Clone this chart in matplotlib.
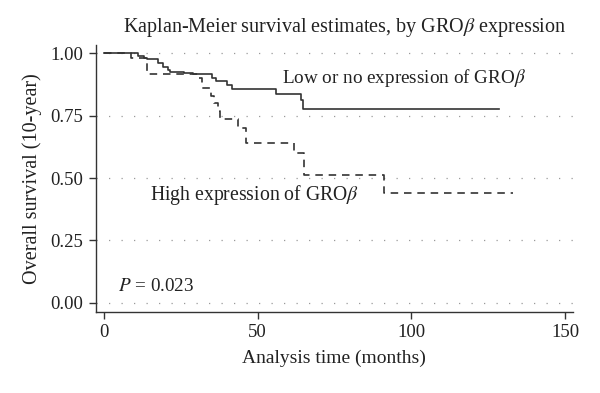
import matplotlib
matplotlib.use("Agg")
import matplotlib.pyplot as plt

plt.rcParams['font.family'] = ['Liberation Serif', 'DejaVu Serif']
plt.rcParams['mathtext.fontset'] = 'stix'

# Kaplan-Meier step curves (months, survival)
low_t = [0, 11, 13.2, 14, 17.8, 19.2, 20.8, 21.5, 26.2, 29.1, 35.1, 36.5, 40, 41.6, 55.9, 64.1, 64.9, 128.6]
low_s = [1.0, 0.989, 0.982, 0.976, 0.96, 0.946, 0.933, 0.926, 0.92, 0.916, 0.90, 0.889, 0.873, 0.857, 0.836, 0.813, 0.779, 0.779]

high_t = [0, 9, 14, 30.5, 31.8, 34.8, 36, 37, 37.8, 43.7, 46.3, 61.7, 65, 91, 133]
high_s = [1.0, 0.982, 0.918, 0.90, 0.86, 0.83, 0.80, 0.77, 0.735, 0.70, 0.639, 0.602, 0.512, 0.439, 0.439]

y_ticks = [0.0, 0.25, 0.5, 0.75, 1.0]
x_ticks = [0, 50, 100, 150]

fig = plt.figure(figsize=(6, 3.93), dpi=100)
ax = fig.add_axes([0.1595, 0.207, 0.7955, 0.678])

for y in y_ticks:
    ax.axhline(y, color='#9a9a9a', lw=0.9, ls=(0, (1, 9)), zorder=1)

ax.step(high_t, high_s, where='post', color='#333333', lw=1.2, ls=(0, (4.5, 3.5)), zorder=2)
ax.step(low_t, low_s, where='post', color='#333333', lw=1.2, zorder=3)

ax.set_xlim(-2.6, 152.5)
ax.set_ylim(-0.036, 1.033)
ax.set_xticks(x_ticks)
ax.set_yticks(y_ticks)
ax.set_yticklabels(['%.2f' % v for v in y_ticks])
ax.tick_params(labelsize=13.5, length=5, width=1, color='#333333', labelcolor='#222222', pad=4)

for s in ['top', 'right']:
    ax.spines[s].set_visible(False)
for s in ['left', 'bottom']:
    ax.spines[s].set_color('#333333')
    ax.spines[s].set_linewidth(1)

ax.set_xlabel('Analysis time (months)', fontsize=14, color='#222222', labelpad=6)
ax.set_ylabel('Overall survival (10-year)', fontsize=14.5, color='#222222', labelpad=6)

ax.text(58, 0.90, r'Low or no expression of GRO$\beta$', fontsize=13.8, color='#222222', va='center')
ax.text(15.1, 0.432, r'High expression of GRO$\beta$', fontsize=14.2, color='#222222', va='center')
ax.text(4.7, 0.064, r'$P$ = 0.023', fontsize=13.8, color='#222222', va='center')

fig.text(0.575, 0.93, r'Kaplan-Meier survival estimates, by GRO$\beta$ expression',
         fontsize=14.5, color='#222222', ha='center', va='center')

fig.savefig('out.png', dpi=100, facecolor='white')
